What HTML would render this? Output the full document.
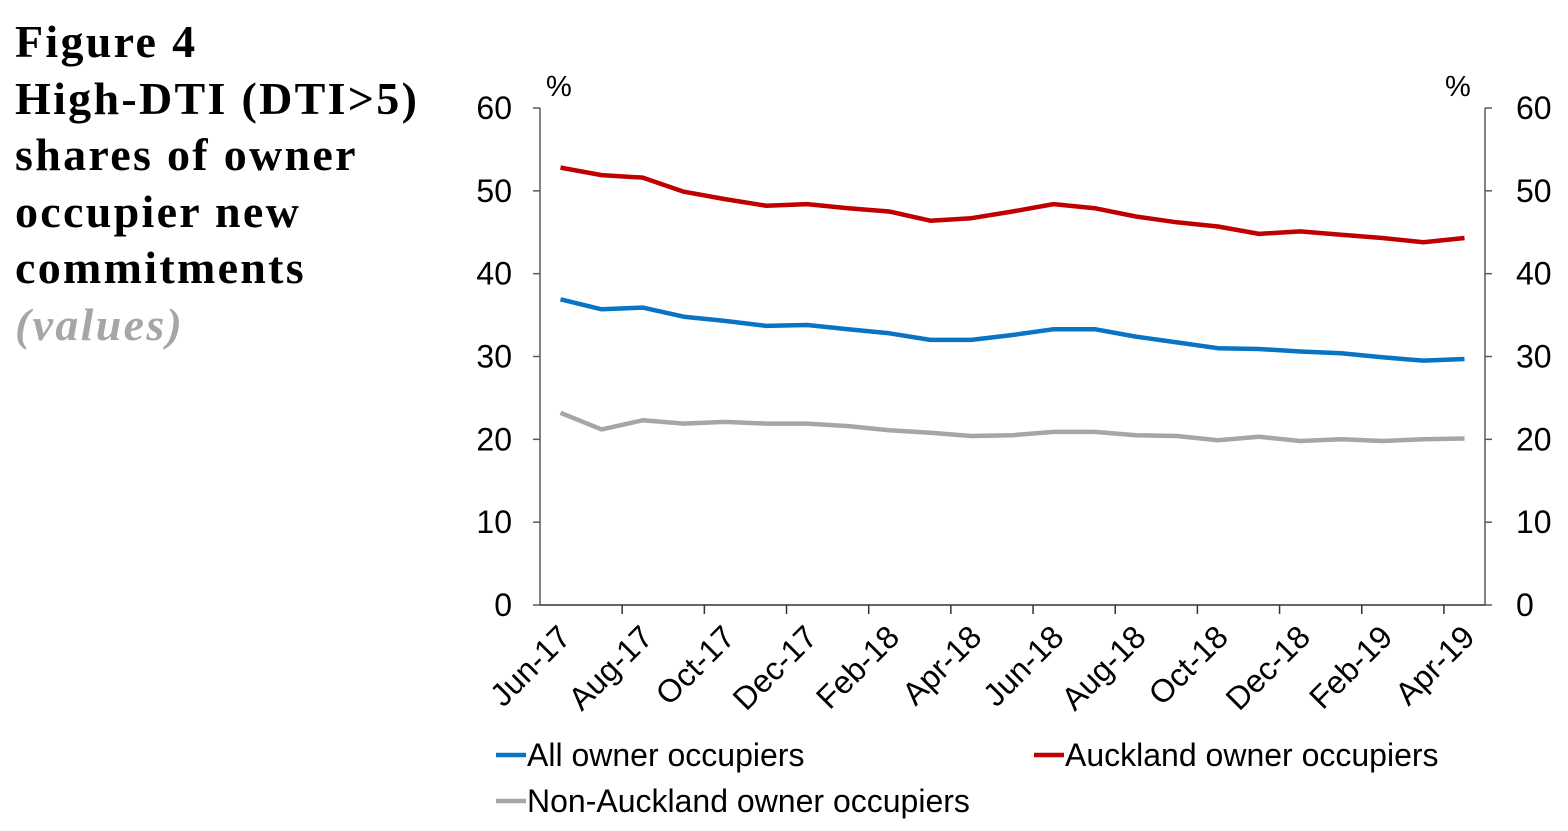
<!DOCTYPE html>
<html><head><meta charset="utf-8"><style>
body{margin:0;background:#fff;width:1568px;height:831px;overflow:hidden;}
#title{position:absolute;left:15px;top:14px;font-family:"Liberation Serif",serif;font-weight:bold;font-size:46px;letter-spacing:2.3px;line-height:56.5px;color:#000;}
#title .v{color:#a6a6a6;font-style:italic;}
svg{position:absolute;left:0;top:0;}
text{font-family:"Liberation Sans",sans-serif;}
</style></head><body>
<div id="title">Figure 4<br>High-DTI (DTI&gt;5)<br>shares of owner<br>occupier new<br>commitments<br><span class="v">(values)</span></div>
<svg id="chart" width="1568" height="831"></svg>
<script>
const categories=["Jun-17","Jul-17","Aug-17","Sep-17","Oct-17","Nov-17","Dec-17","Jan-18","Feb-18","Mar-18","Apr-18","May-18","Jun-18","Jul-18","Aug-18","Sep-18","Oct-18","Nov-18","Dec-18","Jan-19","Feb-19","Mar-19","Apr-19"];
const aucklandValues=[52.8,51.9,51.6,49.9,49.0,48.2,48.4,47.9,47.5,46.4,46.7,47.5,48.4,47.9,46.9,46.2,45.7,44.8,45.1,44.7,44.3,43.8,44.3];
const allValues=[36.9,35.7,35.9,34.8,34.3,33.7,33.8,33.3,32.8,32.0,32.0,32.6,33.3,33.3,32.4,31.7,31.0,30.9,30.6,30.4,29.9,29.5,29.7];
const nonAucklandValues=[23.2,21.2,22.3,21.9,22.1,21.9,21.9,21.6,21.1,20.8,20.4,20.5,20.9,20.9,20.5,20.4,19.9,20.3,19.8,20.0,19.8,20.0,20.1];
const yTicks=[0,10,20,30,40,50,60];
const NS="http://www.w3.org/2000/svg";
const svg=document.getElementById('chart');
const L=540,R=1485,T=108,B=605;
const step=(R-L)/categories.length;
function x(i){return L+step*(i+0.5);}
function y(v){return B-(v/60)*(B-T);}
function el(tag,attrs,text){const e=document.createElementNS(NS,tag);for(const k in attrs)e.setAttribute(k,attrs[k]);if(text!==undefined)e.textContent=text;svg.appendChild(e);return e;}
let e;
const AX='#595959';
e=el('line',{x1:L,y1:T,x2:L,y2:B,stroke:AX,'stroke-width':1.5});


e=el('line',{x1:R,y1:T,x2:R,y2:B,stroke:AX,'stroke-width':1.5});


e=el('line',{x1:L,y1:B,x2:R,y2:B,stroke:'#333','stroke-width':1.5});


yTicks.forEach(v=>{
  el('line',{x1:L-7,y1:y(v),x2:L,y2:y(v),stroke:AX,'stroke-width':1.5});
  el('line',{x1:R,y1:y(v),x2:R+7,y2:y(v),stroke:AX,'stroke-width':1.5});
  e=el('text',{x:L-28,y:y(v)+11,'font-size':32,'text-anchor':'end',fill:'#000'},v);
  
  
  e=el('text',{x:R+31,y:y(v)+11,'font-size':32,'text-anchor':'start',fill:'#000'},v);
  
  
});
e=el('text',{x:546,y:96,'font-size':29,fill:'#000'},'%');


e=el('text',{x:1445,y:96,'font-size':29,fill:'#000'},'%');


for(let i=2;i<categories.length;i+=2){
  el('line',{x1:L+step*i,y1:B,x2:L+step*i,y2:B+9,stroke:'#333','stroke-width':1.5});
}
categories.forEach((c,i)=>{
  if(i%2)return;
  const tx=x(i)+12,ty=B+34;
  e=el('text',{x:tx,y:ty,'font-size':32,'text-anchor':'end',fill:'#000',transform:`rotate(-45 ${tx} ${ty})`},c);
  
  
});
function series(vals,color,name){
  const d=vals.map((v,i)=>(i?'L':'M')+x(i).toFixed(1)+' '+y(v).toFixed(1)).join(' ');
  const p=el('path',{d:d,fill:'none',stroke:color,'stroke-width':4.5,'stroke-linejoin':'round'});
  
  
}
series(nonAucklandValues,'#a6a6a6','non-auckland-line');
series(allValues,'#0a74c4','all-owner-occupiers-line');
series(aucklandValues,'#c00000','auckland-line');
function legend(lx,ly,color,label,name){
  el('line',{x1:lx,y1:ly,x2:lx+30,y2:ly,stroke:color,'stroke-width':4.5});
  const t=el('text',{x:lx+31,y:ly+11,'font-size':32,fill:'#000'},label);
  
  
}
legend(496,755,'#0a74c4','All owner occupiers','legend-all-owner-occupiers');
legend(1034,755,'#c00000','Auckland owner occupiers','legend-auckland');
legend(496,801,'#a6a6a6','Non-Auckland owner occupiers','legend-non-auckland');
</script>
</body></html>
